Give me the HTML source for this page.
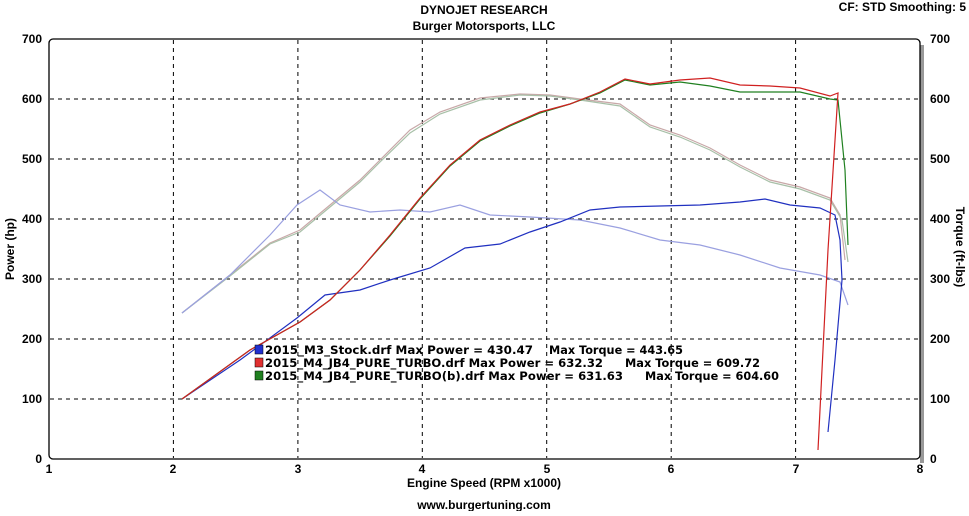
<!DOCTYPE html>
<html><head><style>
body{margin:0;background:#fff;}
svg text{font-family:"Liberation Sans",sans-serif;font-size:12px;font-weight:bold;fill:#000}
svg text.lg{font-family:"DejaVu Sans",sans-serif;font-size:11.5px}
</style></head><body>
<svg width="969" height="511" viewBox="0 0 969 511" xmlns="http://www.w3.org/2000/svg">
<rect x="920" y="45" width="4" height="418" fill="#999"/>
<rect x="49" y="39" width="871" height="420" rx="4" fill="#fff" stroke="#000" stroke-width="1.3"/>
<g stroke="#000" stroke-dasharray="4,4" stroke-width="1">
<line x1="173.4" y1="40" x2="173.4" y2="458"/><line x1="297.9" y1="40" x2="297.9" y2="458"/>
<line x1="422.3" y1="40" x2="422.3" y2="458"/><line x1="546.7" y1="40" x2="546.7" y2="458"/>
<line x1="671.2" y1="40" x2="671.2" y2="458"/><line x1="795.6" y1="40" x2="795.6" y2="458"/>
<line x1="50" y1="99" x2="919" y2="99"/><line x1="50" y1="159" x2="919" y2="159"/>
<line x1="50" y1="219" x2="919" y2="219"/><line x1="50" y1="279" x2="919" y2="279"/>
<line x1="50" y1="339" x2="919" y2="339"/><line x1="50" y1="399" x2="919" y2="399"/>
</g>
<g fill="none" stroke-width="1.2">
<polyline stroke="#c8a8a8" points="182,313 230,275 270,243 300,230 330,205 360,180 380,160 410,130 440,112 480,98 520,94 550,95 580,99 620,104 650,125 680,135 710,148 740,165 770,180 800,187 830,198 840,215 845,260"/>
<polyline stroke="#a8c0a8" points="182,313 230,276 270,244 300,232 330,207 360,182 380,162 410,133 440,114 480,100 520,95 550,96 580,100 620,106 650,127 680,137 710,150 740,167 770,182 800,189 830,200 842,220 848,262"/>
<polyline stroke="#9aa0e0" points="182,313 230,275 270,235 297,205 320,190 340,205 370,212 400,210 430,212 460,205 490,215 530,217 580,220 620,228 660,240 700,245 740,255 780,268 820,275 840,282 848,305"/>
<polyline stroke="#2030c0" points="182,399 240,360 297,318 325,295 360,290 390,280 430,268 465,248 500,244 530,232 560,222 590,210 620,207 660,206 700,205 740,202 765,199 790,205 820,208 835,215 840,240 842,280 835,360 828,432"/>
<polyline stroke="#208020" points="182,399 250,350 300,322 330,300 360,270 390,236 420,199 450,166 480,141 510,126 540,113 570,104 600,93 625,80 650,85 680,82 710,86 740,92 770,92 800,92 830,99 838,100 845,170 848,245"/>
<polyline stroke="#d02020" points="182,399 250,350 300,322 330,300 360,270 390,235 420,198 450,165 480,140 510,125 540,112 570,104 600,92 625,79 650,84 680,80 710,78 740,85 770,86 800,88 830,96 838,93 828,250 818,450"/>
</g>
<g text-anchor="end">
<text x="42" y="43">700</text><text x="42" y="103">600</text><text x="42" y="163">500</text><text x="42" y="223">400</text><text x="42" y="283">300</text><text x="42" y="343">200</text><text x="42" y="403">100</text><text x="42" y="463">0</text>
</g>
<g>
<text x="930" y="43">700</text><text x="930" y="103">600</text><text x="930" y="163">500</text><text x="930" y="223">400</text><text x="930" y="283">300</text><text x="930" y="343">200</text><text x="930" y="403">100</text><text x="930" y="463">0</text>
</g>
<g text-anchor="middle">
<text x="49" y="473">1</text><text x="173" y="473">2</text><text x="298" y="473">3</text><text x="422" y="473">4</text><text x="547" y="473">5</text><text x="671" y="473">6</text><text x="796" y="473">7</text><text x="920" y="473">8</text>
<text x="484" y="14">DYNOJET RESEARCH</text>
<text x="484" y="30">Burger Motorsports, LLC</text>
<text x="484" y="487" font-size="13">Engine Speed (RPM x1000)</text>
<text x="484" y="509">www.burgertuning.com</text>
<text transform="translate(14,249) rotate(-90)" font-size="13">Power (hp)</text>
<text transform="translate(956,247) rotate(90)" font-size="13">Torque (ft-lbs)</text>
</g>
<text x="966" y="11" text-anchor="end">CF: STD  Smoothing: 5</text>
<rect x="255" y="345" width="8" height="9" fill="#2030d0" stroke="#000" stroke-width=".5"/>
<rect x="255" y="358" width="8" height="9" fill="#e03030" stroke="#000" stroke-width=".5"/>
<rect x="255" y="371" width="8" height="9" fill="#208020" stroke="#000" stroke-width=".5"/>
<text class="lg" x="265" y="354" textLength="268" lengthAdjust="spacingAndGlyphs">2015_M3_Stock.drf Max Power = 430.47</text>
<text class="lg" x="549" y="354" textLength="134" lengthAdjust="spacingAndGlyphs">Max Torque = 443.65</text>
<text class="lg" x="265" y="367" textLength="338" lengthAdjust="spacingAndGlyphs">2015_M4_JB4_PURE_TURBO.drf Max Power = 632.32</text>
<text class="lg" x="625" y="367" textLength="135" lengthAdjust="spacingAndGlyphs">Max Torque = 609.72</text>
<text class="lg" x="265" y="380" textLength="358" lengthAdjust="spacingAndGlyphs">2015_M4_JB4_PURE_TURBO(b).drf Max Power = 631.63</text>
<text class="lg" x="645" y="380" textLength="134" lengthAdjust="spacingAndGlyphs">Max Torque = 604.60</text>
</svg>
</body></html>
